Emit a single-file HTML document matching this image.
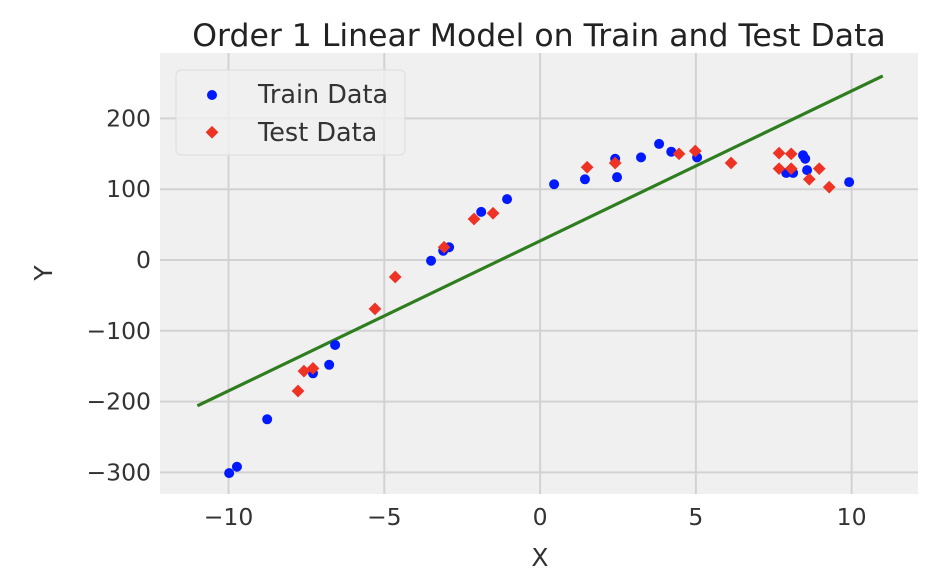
<!DOCTYPE html>
<html><head><meta charset="utf-8"><style>
body{margin:0;background:#fff;}
svg{display:block;font-family:"DejaVu Sans","Liberation Sans",sans-serif;}
</style></head><body>
<svg id="chart" width="940" height="584">
<rect x="160" y="53" width="758" height="441" fill="#f0f0f0"/>
<g id="grid"></g>
<g id="ticks"></g>
<g id="marks"></g>
<text x="539" y="46" text-anchor="middle" font-size="31.5" fill="#222">Order 1 Linear Model on Train and Test Data</text>
<text x="540" y="566" text-anchor="middle" font-size="25" fill="#333">X</text>
<text x="52" y="273" text-anchor="middle" font-size="25" fill="#333" transform="rotate(-90 52 273)">Y</text>
<g>
<rect x="176" y="70" width="229" height="85" rx="5" fill="#f0f0f0" fill-opacity="0.8" stroke="#ddd"/>
<circle cx="212" cy="95" r="5" fill="#0019ff"/>
<text x="258" y="103" font-size="25.5" fill="#333">Train Data</text>
<rect x="207" y="128" width="9" height="9" fill="#ee3324" transform="rotate(45 212 133)"/>
<text x="258" y="141" font-size="25.5" fill="#333">Test Data</text>
</g>
</svg>
<script>
const xTicks=[-10,-5,0,5,10];
const yTicks=[-300,-200,-100,0,100,200];
const trainX=[-9.98,-9.73,-8.76,-7.29,-6.77,-6.58,-3.50,-3.11,-2.92,-1.89,-1.06,0.45,1.44,2.41,2.47,3.24,3.82,4.21,5.04,7.90,8.12,8.44,8.51,8.57,9.92];
const trainY=[-301,-292,-225,-160,-148,-120,-1,13,18,68,86,107,114,143,117,145,164,153,145,123,123,148,143,127,110];
const testX=[-7.77,-7.58,-7.29,-5.30,-4.65,-3.08,-2.12,-1.51,1.51,2.41,4.46,4.98,6.13,7.67,8.06,7.67,8.06,8.64,8.96,9.28];
const testY=[-185,-157,-153,-69,-24,18,58,66,131,137,150,154,137,151,150,129,129,114,129,103];
const lineX=[-11,11];
const lineY=[-206,260];
const X0=160,X1=918,Y0=53,Y1=494,xmin=-12.2,xmax=12.13,ymin=-330.5,ymax=292.4;
const sx=v=>X0+(v-xmin)/(xmax-xmin)*(X1-X0);
const sy=v=>Y1-(v-ymin)/(ymax-ymin)*(Y1-Y0);
const NS="http://www.w3.org/2000/svg";
function mk(tag,attrs,parent){const e=document.createElementNS(NS,tag);for(const k in attrs)e.setAttribute(k,attrs[k]);document.getElementById(parent).appendChild(e);return e;}
xTicks.forEach(t=>{
 const g=mk('line',{x1:sx(t),x2:sx(t),y1:Y0,y2:Y1,stroke:'#d2d2d2','stroke-width':2},'grid');
 
 
 const l=mk('text',{x:sx(t),y:Y1+31,'text-anchor':'middle','font-size':23.5,fill:'#333'},'ticks');
 l.textContent=t<0?'\u2212'+(-t):String(t);
 
 
});
yTicks.forEach(t=>{
 const g=mk('line',{x1:X0,x2:X1,y1:sy(t),y2:sy(t),stroke:'#d2d2d2','stroke-width':2},'grid');
 
 
 const l=mk('text',{x:X0-9,y:sy(t)+8,'text-anchor':'end','font-size':23.5,fill:'#333'},'ticks');
 l.textContent=t<0?'\u2212'+(-t):String(t);
 
 
});
const ln=mk('line',{x1:sx(lineX[0]),y1:sy(lineY[0]),x2:sx(lineX[1]),y2:sy(lineY[1]),stroke:'#2e7d1e','stroke-width':3.2},'marks');


trainX.forEach((x,i)=>{
 const c=mk('circle',{cx:sx(x),cy:sy(trainY[i]),r:5,fill:'#0019ff'},'marks');
 
 
});
testX.forEach((x,i)=>{
 const cx=sx(x),cy=sy(testY[i]);
 const r=mk('rect',{x:cx-4.5,y:cy-4.5,width:9,height:9,fill:'#ee3324',transform:`rotate(45 ${cx} ${cy})`},'marks');
 
 
});
</script>
</body></html>
